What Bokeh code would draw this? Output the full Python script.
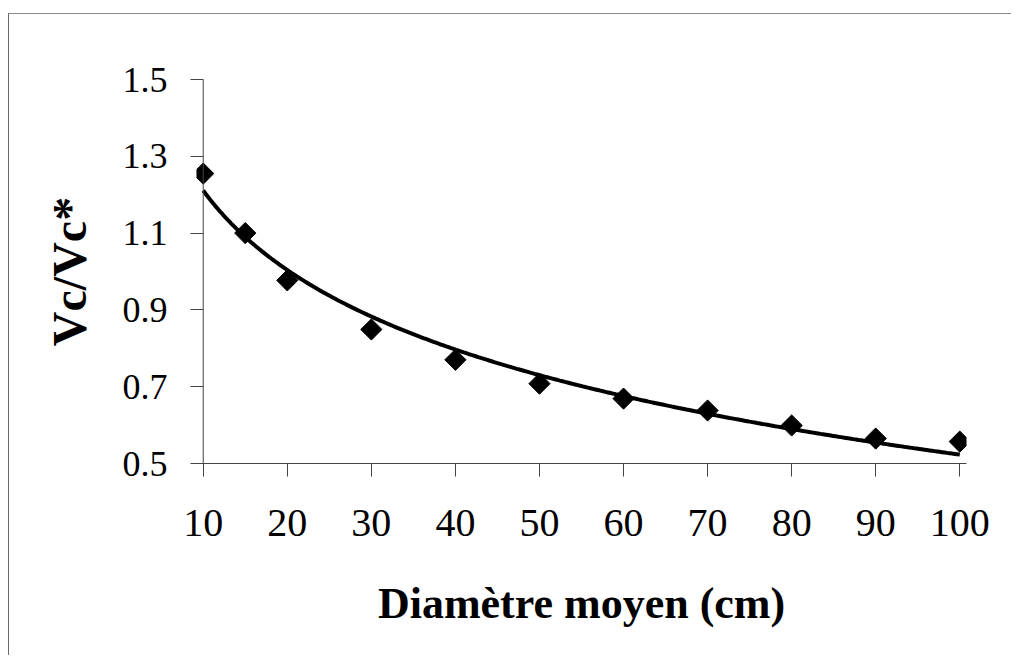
import numpy as np
from bokeh.plotting import figure
from bokeh.models import Range1d, FixedTicker, Span
from bokeh.embed import file_html
from bokeh.resources import INLINE

# data
diametre = [10, 15, 20, 30, 40, 50, 60, 70, 80, 90, 100]
vc_ratio = [1.255, 1.100, 0.977, 0.849, 0.770, 0.708, 0.669, 0.638, 0.599, 0.565, 0.557]
x_ticks = [10, 20, 30, 40, 50, 60, 70, 80, 90, 100]
y_ticks = [0.5, 0.7, 0.9, 1.1, 1.3, 1.5]
x_title = "Diamètre moyen (cm)"
y_title = "Vc/Vc*"

# logarithmic trendline fitted to the data points (as the spreadsheet does)
b, a = np.polyfit(np.log(diametre), vc_ratio, 1)
trend_x = np.linspace(min(diametre), max(diametre), 300)
trend_y = a + b * np.log(trend_x)

FONT = "Liberation Serif"
AXIS_COLOR = "#444444"

p = figure(
    frame_width=770, frame_height=384,
    min_border_left=184, min_border_right=45,
    min_border_top=65, min_border_bottom=192,
    x_range=Range1d(9.2, 100.8), y_range=Range1d(0.5, 1.5),
    output_backend="svg", toolbar_location=None,
)
p.margin = (13, 0, 0, 8)
p.styles = {"border-top": "1px solid #8a8a8a", "border-left": "1px solid #6a6a6a"}
p.min_border_left = 187
p.outline_line_color = None
p.background_fill_color = "white"
p.border_fill_color = "white"
p.xgrid.visible = False
p.ygrid.visible = False

p.line(trend_x, trend_y, line_color="black", line_width=4)
p.scatter(diametre, vc_ratio, marker="square", angle=np.pi / 4, size=15,
          fill_color="black", line_color="black")

# vertical axis line drawn at the first tick value (x = 10)
p.add_layout(Span(location=x_ticks[0], dimension="height",
                  line_color=AXIS_COLOR, line_width=1))

for ax in (p.xaxis[0], p.yaxis[0]):
    ax.axis_line_color = AXIS_COLOR
    ax.axis_line_width = 1
    ax.major_tick_line_color = AXIS_COLOR
    ax.minor_tick_line_color = None
    ax.major_label_text_font = FONT
    ax.major_label_text_color = "black"
    ax.axis_label_text_font = FONT
    ax.axis_label_text_font_style = "bold"
    ax.axis_label_text_color = "black"

xa = p.xaxis[0]
xa.ticker = FixedTicker(ticks=x_ticks)
xa.major_tick_in = 0
xa.major_tick_out = 13
xa.major_label_text_font_size = "40px"
xa.major_label_standoff = 33
xa.axis_label = x_title
xa.axis_label_text_font_size = "44px"
xa.axis_label_standoff = 40

ya = p.yaxis[0]
ya.axis_line_color = None
ya.ticker = FixedTicker(ticks=y_ticks)
ya.major_tick_in = 7
ya.major_tick_out = 6
ya.major_label_text_font_size = "36px"
ya.major_label_standoff = 23
ya.axis_label = y_title
ya.axis_label_text_font_size = "48px"
ya.axis_label_standoff = 24

open("out.html", "w").write(file_html(p, INLINE))
